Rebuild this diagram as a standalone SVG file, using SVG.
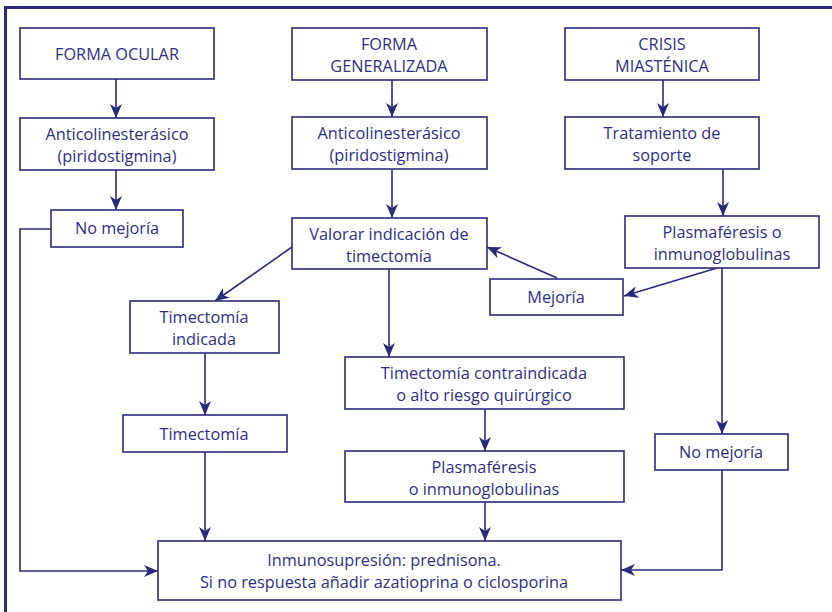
<svg xmlns="http://www.w3.org/2000/svg" width="832" height="612" viewBox="0 0 832 612">
<style>
.b{fill:#fff;stroke:#2a2a7c;stroke-width:1.6}
.t{font-family:"Open Sans","Noto Sans","Liberation Sans",sans-serif;font-size:16.3px;fill:#2e2e84;text-anchor:middle}
.c{fill:none;stroke:#2a2a7c;stroke-width:1.6}
.a{marker-end:url(#ah)}
</style>
<defs>
<marker id="ah" markerWidth="15" markerHeight="13" refX="14" refY="6.5" orient="auto" markerUnits="userSpaceOnUse">
<path d="M0,0.5 L14,6.5 L0,12.5 L4,6.5 z" fill="#2a2a7c"/>
</marker>
</defs>
<rect width="832" height="612" fill="#fff"/>
<path d="M5.5,612 L5.5,7.5 L832,7.5" fill="none" stroke="#2a2a7c" stroke-width="3"/>
<g id="connectors">
<path class="c a" d="M116,79 L116,118"/>
<path class="c a" d="M116,170 L116,210"/>
<path class="c a" d="M51,229 L20,229 L20,571 L158,571"/>
<path class="c a" d="M392,80 L392,117"/>
<path class="c a" d="M392,169 L392,218"/>
<path class="c a" d="M292,247 L215,301"/>
<path class="c a" d="M389,269 L389,357"/>
<path class="c a" d="M205,353 L205,415"/>
<path class="c a" d="M205,452 L205,541"/>
<path class="c a" d="M485,409 L485,451"/>
<path class="c a" d="M485,502 L485,541"/>
<path class="c a" d="M663,80 L663,117"/>
<path class="c a" d="M723,169 L723,216"/>
<path class="c a" d="M717,268 L624,296"/>
<path class="c a" d="M557,278 L487,247"/>
<path class="c a" d="M722,268 L722,434"/>
<path class="c a" d="M722,470 L722,570 L621,570"/>
</g>
<g id="forma-ocular"><rect class="b" x="20" y="28" width="194" height="51"/><text class="t" x="117" y="60">FORMA OCULAR</text></g>
<g id="anticol-1"><rect class="b" x="20" y="118" width="194" height="52"/><text class="t" x="117" y="140">Anticolinesterásico</text><text class="t" x="117" y="162">(piridostigmina)</text></g>
<g id="no-mejoria-1"><rect class="b" x="51" y="210" width="132" height="37"/><text class="t" x="117" y="234">No mejoría</text></g>
<g id="forma-generalizada"><rect class="b" x="292" y="28" width="195" height="52"/><text class="t" x="389" y="50">FORMA</text><text class="t" x="389" y="72">GENERALIZADA</text></g>
<g id="anticol-2"><rect class="b" x="292" y="117" width="195" height="52"/><text class="t" x="389" y="139">Anticolinesterásico</text><text class="t" x="389" y="161">(piridostigmina)</text></g>
<g id="valorar"><rect class="b" x="292" y="218" width="195" height="51"/><text class="t" x="389" y="240">Valorar indicación de</text><text class="t" x="389" y="262">timectomía</text></g>
<g id="timectomia-indicada"><rect class="b" x="130" y="301" width="149" height="52"/><text class="t" x="204" y="323">Timectomía</text><text class="t" x="204" y="345">indicada</text></g>
<g id="timectomia"><rect class="b" x="123" y="415" width="164" height="37"/><text class="t" x="204" y="440">Timectomía</text></g>
<g id="contraindicada"><rect class="b" x="345" y="357" width="279" height="52"/><text class="t" x="484" y="379">Timectomía contraindicada</text><text class="t" x="484" y="401">o alto riesgo quirúrgico</text></g>
<g id="plasmaferesis-2"><rect class="b" x="345" y="451" width="279" height="51"/><text class="t" x="484" y="473">Plasmaféresis</text><text class="t" x="484" y="495">o inmunoglobulinas</text></g>
<g id="crisis"><rect class="b" x="565" y="28" width="194" height="52"/><text class="t" x="662" y="50">CRISIS</text><text class="t" x="662" y="72">MIASTÉNICA</text></g>
<g id="tratamiento"><rect class="b" x="565" y="117" width="194" height="52"/><text class="t" x="662" y="139">Tratamiento de</text><text class="t" x="662" y="161">soporte</text></g>
<g id="plasmaferesis-1"><rect class="b" x="625" y="216" width="194" height="52"/><text class="t" x="722" y="238">Plasmaféresis o</text><text class="t" x="722" y="260">inmunoglobulinas</text></g>
<g id="mejoria"><rect class="b" x="490" y="279" width="133" height="36"/><text class="t" x="556" y="303">Mejoría</text></g>
<g id="no-mejoria-2"><rect class="b" x="655" y="434" width="133" height="36"/><text class="t" x="721" y="458">No mejoría</text></g>
<g id="inmunosupresion"><rect class="b" x="158" y="541" width="463" height="59"/><text class="t" x="384" y="566">Inmunosupresión: prednisona.</text><text class="t" x="384" y="588">Si no respuesta añadir azatioprina o ciclosporina</text></g>
</svg>
